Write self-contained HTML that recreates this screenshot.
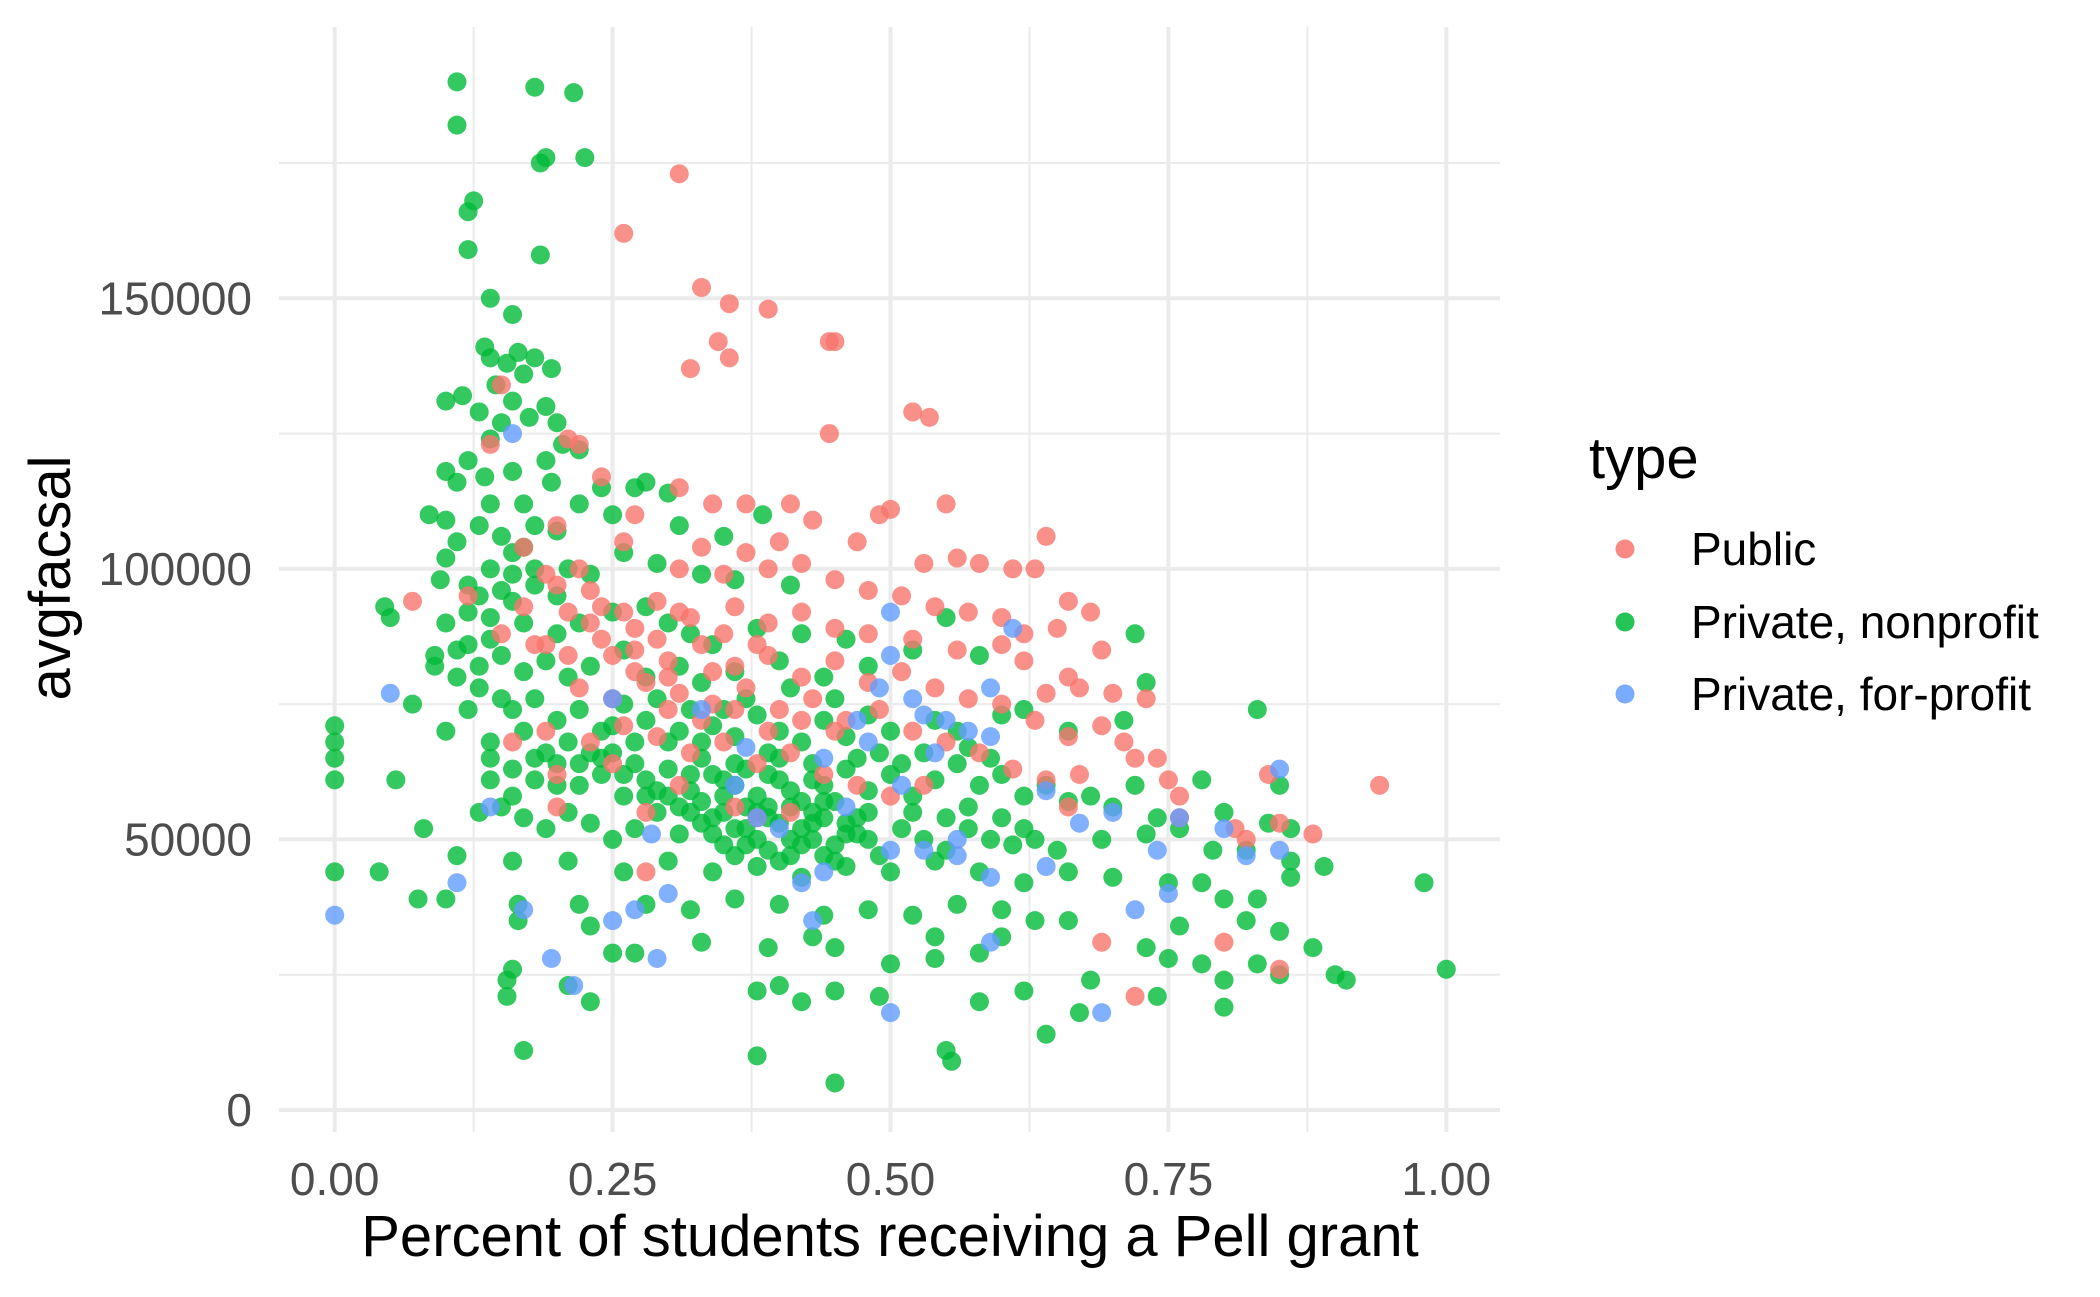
<!DOCTYPE html>
<html><head><meta charset="utf-8"><style>
html,body{margin:0;padding:0;background:#fff;}
svg{display:block;font-family:"Liberation Sans",sans-serif;}
</style></head><body>
<svg id="chart" width="2100" height="1297" viewBox="0 0 2100 1297">
<g id="grid"></g>
<g id="points"></g>
<g id="axes"></g>
<text x="890" y="1256" text-anchor="middle" font-size="58" fill="#000">Percent of students receiving a Pell grant</text>
<text transform="translate(70,578) rotate(-90)" text-anchor="middle" font-size="58" fill="#000">avgfacsal</text>
<g>
<text x="1589" y="478" font-size="58" fill="#000">type</text>
<g><circle cx="1625" cy="549" r="9.5" fill="#F8766D" fill-opacity="0.85"/><text x="1691" y="565" font-size="46" fill="#000">Public</text></g>
<g><circle cx="1625" cy="622" r="9.5" fill="#00BA38" fill-opacity="0.85"/><text x="1691" y="638" font-size="46" fill="#000">Private, nonprofit</text></g>
<g><circle cx="1625" cy="694" r="9.5" fill="#619CFF" fill-opacity="0.85"/><text x="1691" y="710" font-size="46" fill="#000">Private, for-profit</text></g>
</g>
</svg>
<script>
const xTicks=[0,0.25,0.5,0.75,1];
const xTickLabels=["0.00","0.25","0.50","0.75","1.00"];
const yTicks=[0,50000,100000,150000];
const yTickLabels=["0","50000","100000","150000"];
const greenPts=[[0.11,190],[0.18,189],[0.215,188],[0.11,182],[0.19,176],[0.185,175],[0.225,176],[0.12,166],[0.125,168],[0.12,159],[0.185,158],[0.14,150],[0.16,147],[0.135,141],[0.14,139],[0.165,140],[0.18,139],[0.195,137],[0.155,138],[0.17,136],[0.145,134],[0.1,131],[0.115,132],[0.16,131],[0.19,130],[0.175,128],[0.2,127],[0.13,129],[0.14,124],[0.205,123],[0.22,122],[0.12,120],[0.1,118],[0.11,116],[0.135,117],[0.16,118],[0.195,116],[0.24,115],[0.28,116],[0.27,115],[0.085,110],[0.1,109],[0.13,108],[0.15,106],[0.11,105],[0.17,104],[0.2,107],[0.25,110],[0.3,114],[0.31,108],[0.385,110],[0.35,106],[0.1,102],[0.095,98],[0.12,97],[0.14,100],[0.16,99],[0.18,97],[0.21,100],[0.23,99],[0.26,103],[0.29,101],[0.33,99],[0.36,98],[0.41,97],[0.045,93],[0.05,91],[0.1,90],[0.12,92],[0.14,91],[0.17,90],[0.2,88],[0.22,90],[0.25,92],[0.28,93],[0.3,90],[0.32,88],[0.34,86],[0.38,89],[0.42,88],[0.46,87],[0.55,91],[0.72,88],[0.09,84],[0.09,82],[0.11,80],[0.13,82],[0.15,84],[0.17,81],[0.19,83],[0.21,80],[0.23,82],[0.26,85],[0.28,80],[0.31,82],[0.33,79],[0.36,81],[0.4,83],[0.44,80],[0.48,82],[0.52,85],[0.58,84],[0.73,79],[0.07,75],[0.1,70],[0.14,68],[0.16,74],[0.18,76],[0.2,72],[0.22,74],[0.24,70],[0.26,75],[0.28,72],[0.3,68],[0.32,74],[0.34,71],[0.36,69],[0.38,73],[0.4,70],[0.42,68],[0.44,72],[0.46,69],[0.48,73],[0.5,70],[0.54,72],[0.56,70],[0.6,73],[0.62,74],[0.66,70],[0.71,72],[0.83,74],[0,71],[0,68],[0,65],[0,61],[0.055,61],[0.14,65],[0.16,63],[0.18,61],[0.2,64],[0.22,60],[0.24,62],[0.26,58],[0.28,61],[0.3,63],[0.32,59],[0.34,62],[0.36,60],[0.38,58],[0.4,61],[0.42,57],[0.44,60],[0.46,63],[0.48,59],[0.5,62],[0.52,58],[0.54,61],[0.56,64],[0.58,60],[0.6,62],[0.62,58],[0.64,60],[0.66,57],[0.68,58],[0.7,56],[0.72,60],[0.74,54],[0.78,61],[0.8,55],[0.85,60],[0.84,53],[0.86,52],[0.08,52],[0.13,55],[0.15,56],[0.17,54],[0.19,52],[0.21,55],[0.23,53],[0.25,50],[0.27,52],[0.29,55],[0.31,51],[0.33,53],[0.35,49],[0.37,52],[0.39,48],[0.41,50],[0.43,53],[0.45,49],[0.47,51],[0.49,47],[0.51,52],[0.53,50],[0.55,48],[0.57,52],[0.59,50],[0.61,49],[0.63,50],[0.65,48],[0.69,50],[0.73,51],[0.76,52],[0.79,48],[0.82,48],[0.86,46],[0.89,45],[0.98,42],[0,44],[0.04,44],[0.11,47],[0.16,46],[0.21,46],[0.26,44],[0.3,46],[0.34,44],[0.38,45],[0.42,43],[0.46,45],[0.5,44],[0.54,46],[0.58,44],[0.62,42],[0.66,44],[0.7,43],[0.75,42],[0.78,42],[0.8,39],[0.83,39],[0.86,43],[0.075,39],[0.1,39],[0.165,38],[0.22,38],[0.23,34],[0.28,38],[0.32,37],[0.36,39],[0.4,38],[0.44,36],[0.48,37],[0.52,36],[0.56,38],[0.6,37],[0.63,35],[0.66,35],[0.76,34],[0.82,35],[0.85,33],[0.88,30],[0.165,35],[0.25,29],[0.27,29],[0.33,31],[0.39,30],[0.43,32],[0.45,30],[0.54,32],[0.58,29],[0.6,32],[0.73,30],[0.75,28],[0.78,27],[0.8,24],[0.83,27],[0.85,25],[0.9,25],[0.91,24],[1.0,26],[0.16,26],[0.155,24],[0.21,23],[0.23,20],[0.155,21],[0.38,22],[0.4,23],[0.42,20],[0.45,22],[0.49,21],[0.58,20],[0.62,22],[0.67,18],[0.64,14],[0.8,19],[0.74,21],[0.17,11],[0.38,10],[0.55,11],[0.555,9],[0.45,5],[0.5,27],[0.54,28],[0.68,24],
[0.33,57],[0.35,55],[0.37,56],[0.39,54],[0.41,56],[0.43,55],[0.45,57],[0.47,54],[0.34,51],[0.36,47],[0.38,50],[0.4,46],[0.42,49],[0.44,47],[0.46,51],[0.48,55],[0.31,56],[0.29,59],[0.27,64],[0.25,66],[0.23,66],[0.21,68],[0.19,66],[0.17,70],[0.15,76],[0.13,78],[0.12,86],[0.13,95],[0.15,96],[0.16,103],[0.18,108],[0.22,112],[0.4,65],[0.43,64],[0.37,63],[0.33,65],[0.35,58],[0.39,56],[0.41,59],[0.44,57],[0.52,55],[0.55,54],[0.57,56],[0.6,54],[0.62,52],[0.49,66],[0.51,64],[0.53,66],[0.57,67],[0.59,65],[0.27,68],[0.25,71],[0.29,76],[0.31,70],[0.33,68],[0.35,74],[0.37,76],[0.41,78],[0.45,76],[0.47,65],[0.39,66],[0.36,64],[0.32,62],[0.28,58],
[0.34,54],[0.36,52],[0.38,55],[0.4,53],[0.42,52],[0.44,54],[0.46,53],[0.48,50],[0.37,49],[0.41,47],[0.43,50],[0.45,46],[0.35,61],[0.39,62],[0.43,61],[0.3,58],[0.32,55],[0.26,62],[0.24,65],[0.22,64],[0.2,60],[0.18,65],[0.16,58],[0.14,61],[0.12,74],[0.11,85],[0.14,87],[0.16,94],[0.18,100],[0.2,95],[0.14,112],[0.17,112],[0.19,120],[0.15,127]];
const redPts=[[0.31,173],[0.26,162],[0.33,152],[0.355,149],[0.39,148],[0.345,142],[0.445,142],[0.45,142],[0.355,139],[0.32,137],[0.15,134],[0.445,125],[0.52,129],[0.535,128],[0.21,124],[0.22,123],[0.14,123],[0.31,115],[0.24,117],[0.34,112],[0.37,112],[0.41,112],[0.43,109],[0.49,110],[0.5,111],[0.55,112],[0.64,106],[0.27,110],[0.2,108],[0.26,105],[0.33,104],[0.37,103],[0.4,105],[0.47,105],[0.53,101],[0.56,102],[0.61,100],[0.58,101],[0.63,100],[0.66,94],[0.68,92],[0.31,100],[0.35,99],[0.39,100],[0.42,101],[0.45,98],[0.48,96],[0.51,95],[0.54,93],[0.57,92],[0.6,91],[0.62,88],[0.65,89],[0.69,85],[0.07,94],[0.12,95],[0.17,93],[0.2,97],[0.23,96],[0.26,92],[0.29,94],[0.32,91],[0.36,93],[0.39,90],[0.42,92],[0.45,89],[0.48,88],[0.52,87],[0.56,85],[0.6,86],[0.62,83],[0.66,80],[0.64,77],[0.67,78],[0.7,77],[0.73,76],[0.15,88],[0.18,86],[0.21,84],[0.24,87],[0.27,85],[0.3,83],[0.33,86],[0.36,82],[0.39,84],[0.42,80],[0.45,83],[0.48,79],[0.51,81],[0.54,78],[0.57,76],[0.6,75],[0.63,72],[0.66,69],[0.69,71],[0.71,68],[0.72,65],[0.74,65],[0.75,61],[0.76,58],[0.22,78],[0.25,76],[0.28,79],[0.31,77],[0.34,75],[0.37,78],[0.4,74],[0.43,76],[0.46,72],[0.49,74],[0.52,70],[0.55,68],[0.58,66],[0.61,63],[0.64,61],[0.67,62],[0.19,70],[0.23,68],[0.26,71],[0.29,69],[0.32,66],[0.35,68],[0.38,64],[0.41,66],[0.44,62],[0.47,60],[0.5,58],[0.53,60],[0.16,68],[0.2,62],[0.25,64],[0.31,60],[0.36,56],[0.41,55],[0.2,56],[0.28,55],[0.38,54],[0.76,54],[0.81,52],[0.84,62],[0.85,53],[0.88,51],[0.94,60],[0.82,50],[0.8,31],[0.69,31],[0.72,21],[0.85,26],[0.28,44],[0.66,56],[0.19,86],[0.27,89],[0.3,80],[0.34,81],[0.38,86],[0.29,87],[0.35,88],[0.31,92],[0.24,93],[0.22,100],[0.19,99],[0.17,104],[0.3,74],[0.33,72],[0.36,74],[0.39,70],[0.42,72],[0.45,70],[0.27,81],[0.25,84],[0.23,90],[0.21,92]];
const bluePts=[[0.16,125],[0.05,77],[0,36],[0.11,42],[0.17,37],[0.195,28],[0.215,23],[0.14,56],[0.25,76],[0.25,35],[0.27,37],[0.285,51],[0.29,28],[0.3,40],[0.33,74],[0.37,67],[0.38,54],[0.4,52],[0.42,42],[0.43,35],[0.44,44],[0.47,72],[0.48,68],[0.49,78],[0.5,92],[0.5,84],[0.5,48],[0.5,18],[0.51,60],[0.52,76],[0.53,73],[0.54,66],[0.55,72],[0.56,50],[0.56,47],[0.57,70],[0.59,78],[0.59,69],[0.59,43],[0.59,31],[0.61,89],[0.64,59],[0.64,45],[0.67,53],[0.7,55],[0.72,37],[0.69,18],[0.74,48],[0.75,40],[0.76,54],[0.8,52],[0.82,47],[0.85,63],[0.85,48],[0.46,56],[0.53,48],[0.44,65],[0.36,60]];

const NS="http://www.w3.org/2000/svg";
const X0=334.7,XS=1111.6,Y0=1110,YS=(1110-298.3)/150000;
function sx(v){return X0+v*XS;}
function sy(v){return Y0-v*YS;}
const PL=279,PR=1500,PT=27,PB=1132;
const grid=document.getElementById('grid');
function line(x1,y1,x2,y2,w,name){
  const l=document.createElementNS(NS,'line');
  l.setAttribute('x1',x1);l.setAttribute('y1',y1);l.setAttribute('x2',x2);l.setAttribute('y2',y2);
  l.setAttribute('stroke','#EBEBEB');l.setAttribute('stroke-width',w);
  
  
  grid.appendChild(l);
}
for(let i=0;i<xTicks.length-1;i++){const m=(xTicks[i]+xTicks[i+1])/2;line(sx(m),PT,sx(m),PB,2,'x-minor-grid');}
for(let i=0;i<yTicks.length;i++){const m=yTicks[i]+25000;line(PL,sy(m),PR,sy(m),2,'y-minor-grid');}
xTicks.forEach(t=>line(sx(t),PT,sx(t),PB,4,'x-major-grid'));
yTicks.forEach(t=>line(PL,sy(t),PR,sy(t),4,'y-major-grid'));
const axes=document.getElementById('axes');
xTicks.forEach((t,i)=>{
  const tx=document.createElementNS(NS,'text');
  tx.setAttribute('x',sx(t));tx.setAttribute('y',1195);tx.setAttribute('text-anchor','middle');
  tx.setAttribute('font-size','46');tx.setAttribute('fill','#4D4D4D');tx.textContent=xTickLabels[i];
  
  
  axes.appendChild(tx);
});
yTicks.forEach((t,i)=>{
  const tx=document.createElementNS(NS,'text');
  tx.setAttribute('x',252);tx.setAttribute('y',sy(t)+16);tx.setAttribute('text-anchor','end');
  tx.setAttribute('font-size','46');tx.setAttribute('fill','#4D4D4D');tx.textContent=yTickLabels[i];
  
  
  axes.appendChild(tx);
});
const pg=document.getElementById('points');
function draw(arr,col,name){
  arr.forEach(p=>{
    const c=document.createElementNS(NS,'circle');
    c.setAttribute('cx',sx(p[0]));c.setAttribute('cy',sy(p[1]*1000));c.setAttribute('r',9.5);
    c.setAttribute('fill',col);c.setAttribute('fill-opacity','0.8');
    
    
    pg.appendChild(c);
  });
}
draw(greenPts,'#00BA38','point-private-nonprofit');
draw(redPts,'#F8766D','point-public');
draw(bluePts,'#619CFF','point-private-forprofit');
</script>
</body></html>
